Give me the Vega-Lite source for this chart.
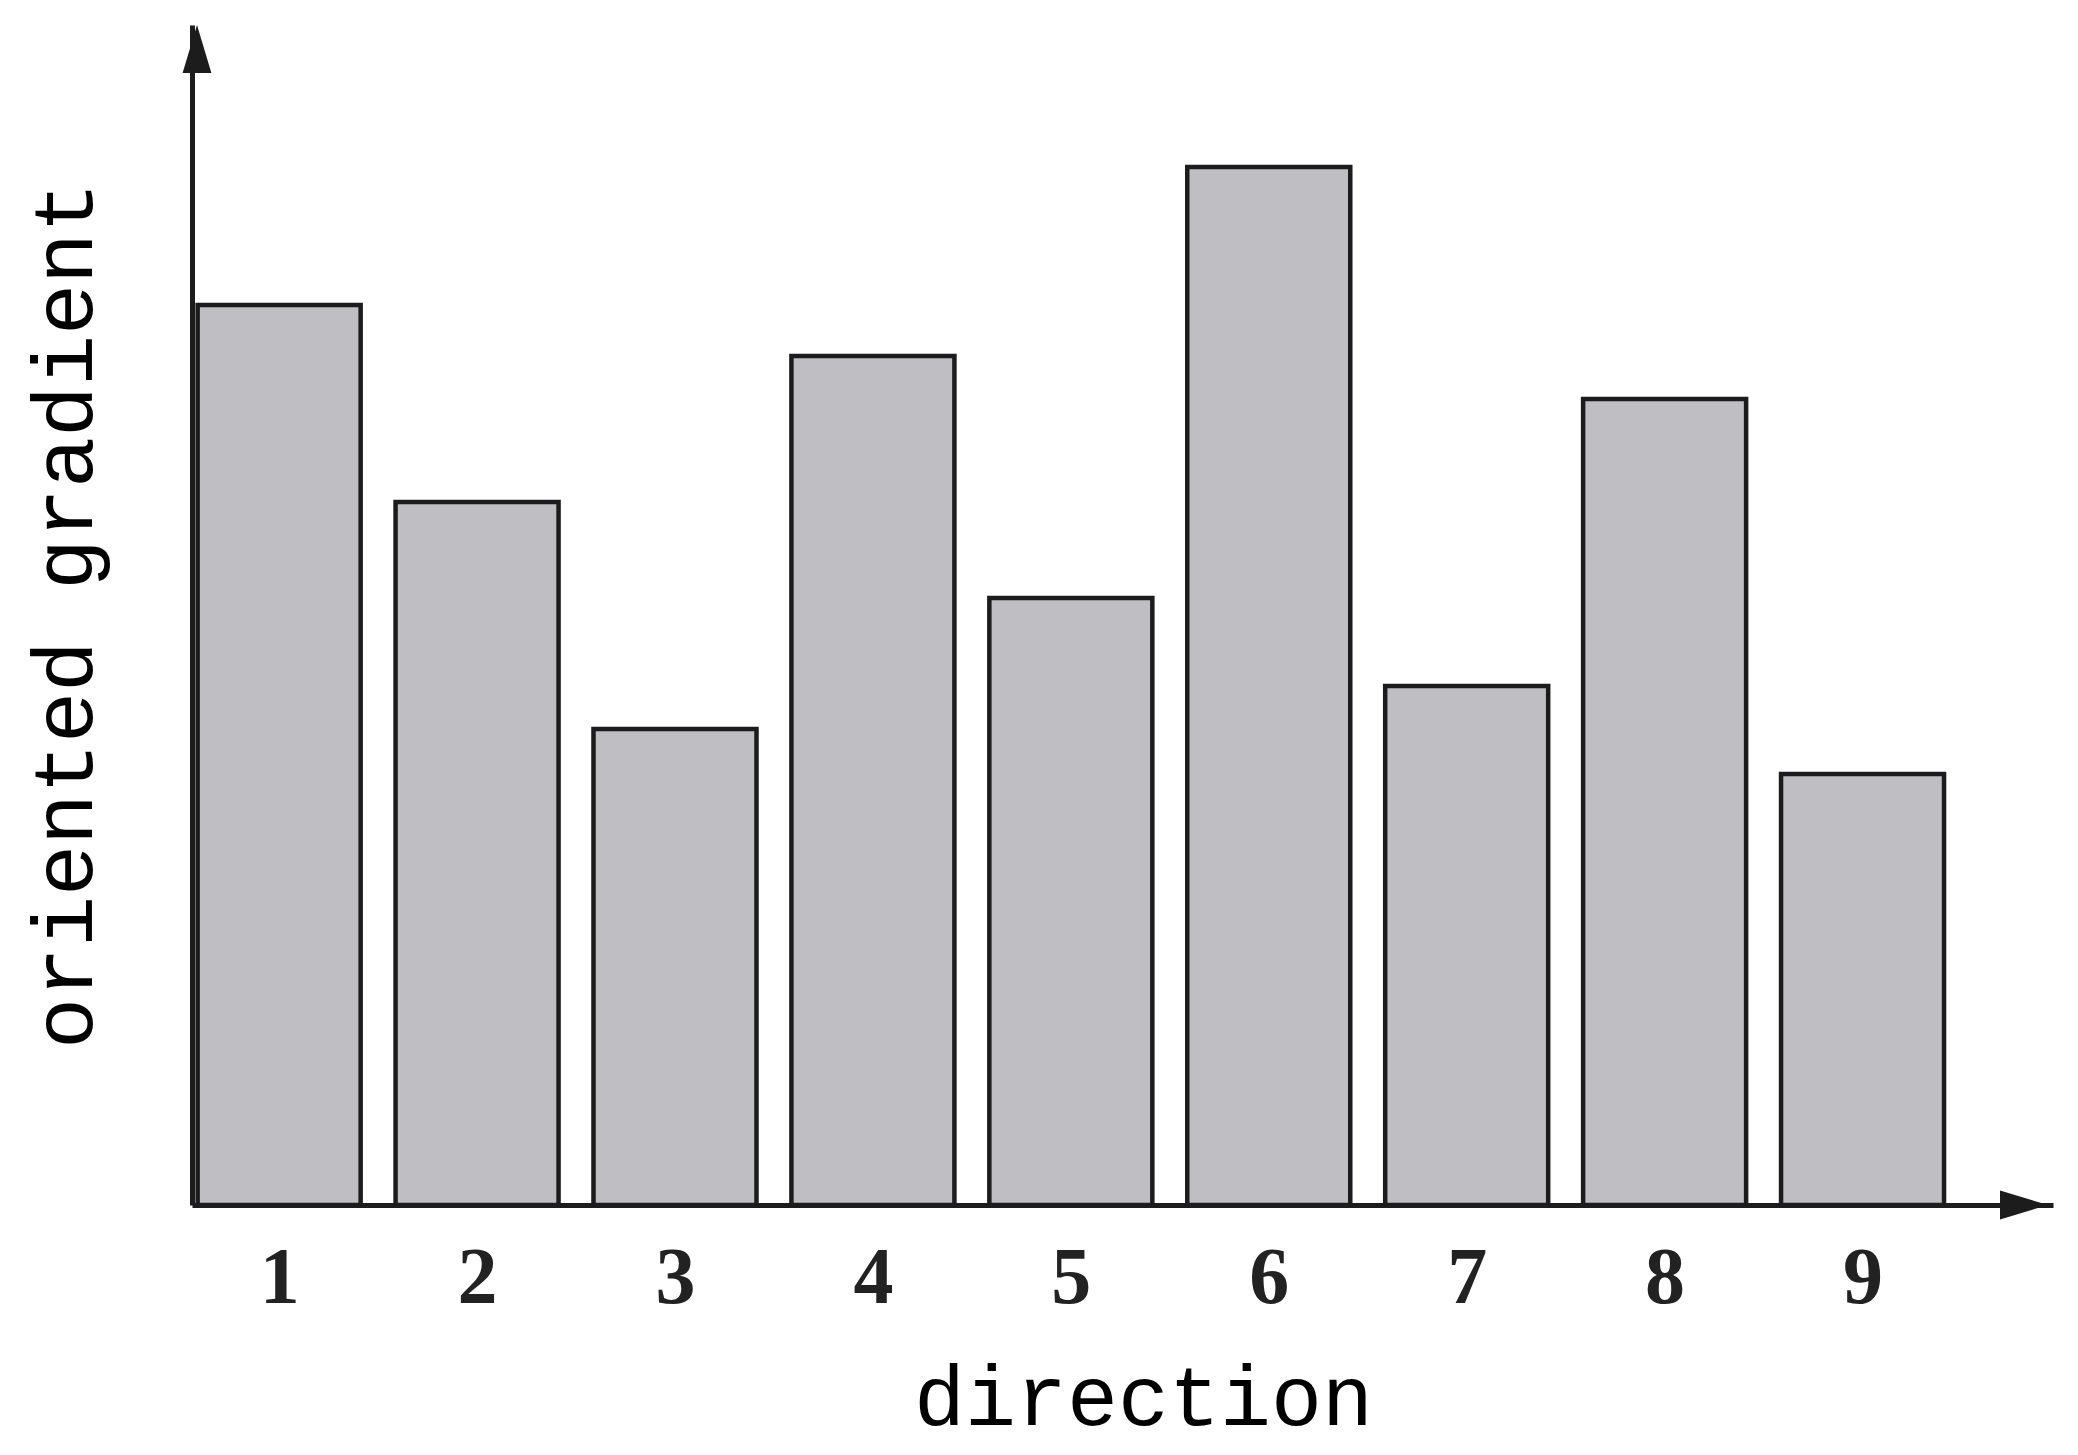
{
  "$schema": "https://vega.github.io/schema/vega-lite/v6.json",
  "width": 1861,
  "height": 1180,
  "autosize": {"type": "none"},
  "padding": {"left": 192, "top": 25, "right": 25, "bottom": 250},
  "background": "white",
  "config": {"view": {"stroke": null}},
  "layer": [
    {
      "data": {"values": [
        {"direction": 1, "gradient": 9.0},
        {"direction": 2, "gradient": 7.03},
        {"direction": 3, "gradient": 4.76},
        {"direction": 4, "gradient": 8.49},
        {"direction": 5, "gradient": 6.07},
        {"direction": 6, "gradient": 10.38},
        {"direction": 7, "gradient": 5.19},
        {"direction": 8, "gradient": 8.06},
        {"direction": 9, "gradient": 4.31}
      ]},
      "mark": {"type": "bar", "orient": "vertical", "width": 163, "fill": "#bfbec3", "stroke": "#1c1c1c", "strokeWidth": 4.5},
      "encoding": {
        "x": {
          "field": "direction", "type": "quantitative",
          "scale": {"domain": [0.585, 9.937], "nice": false, "zero": false},
          "axis": {
            "values": [1, 2, 3, 4, 5, 6, 7, 8, 9], "format": "d",
            "ticks": false, "grid": false, "labelFlush": false, "labelOverlap": false,
            "domainColor": "#1c1c1c", "domainWidth": 5, "domainCap": "butt",
            "labelFont": "Liberation Serif", "labelFontSize": 80, "labelFontWeight": "bold", "labelColor": "#222222", "labelPadding": 34,
            "title": "direction", "titleFont": "Liberation Mono", "titleFontSize": 85, "titleFontWeight": "normal", "titleColor": "#000000",
            "titleX": 951, "titleY": 219, "titleBaseline": "alphabetic", "titleAlign": "center"
          }
        },
        "y": {
          "field": "gradient", "type": "quantitative",
          "scale": {"domain": [0, 11.8], "nice": false},
          "axis": {
            "ticks": false, "labels": false, "grid": false,
            "domainColor": "#1c1c1c", "domainWidth": 5, "domainCap": "butt",
            "title": "oriented gradient", "titleFont": "Liberation Mono", "titleFontSize": 85, "titleFontWeight": "normal", "titleColor": "#000000",
            "titleX": -101, "titleBaseline": "alphabetic", "titleAngle": 270, "titleAlign": "center"
          }
        }
      }
    },
    {
      "data": {"values": [{}]},
      "mark": {"type": "point", "shape": "M0,0 L-2,-0.6 L-2,0.6 Z", "size": 2304, "filled": true, "color": "#1c1c1c", "opacity": 1},
      "encoding": {"x": {"datum": 9.937, "type": "quantitative"}, "y": {"datum": 0, "type": "quantitative"}}
    },
    {
      "data": {"values": [{}]},
      "mark": {"type": "point", "shape": "M0,0 L-0.6,2 L0.6,2 Z", "size": 2304, "filled": true, "color": "#1c1c1c", "opacity": 1},
      "encoding": {"x": {"datum": 0.585, "type": "quantitative"}, "y": {"datum": 11.8, "type": "quantitative"}}
    }
  ]
}
